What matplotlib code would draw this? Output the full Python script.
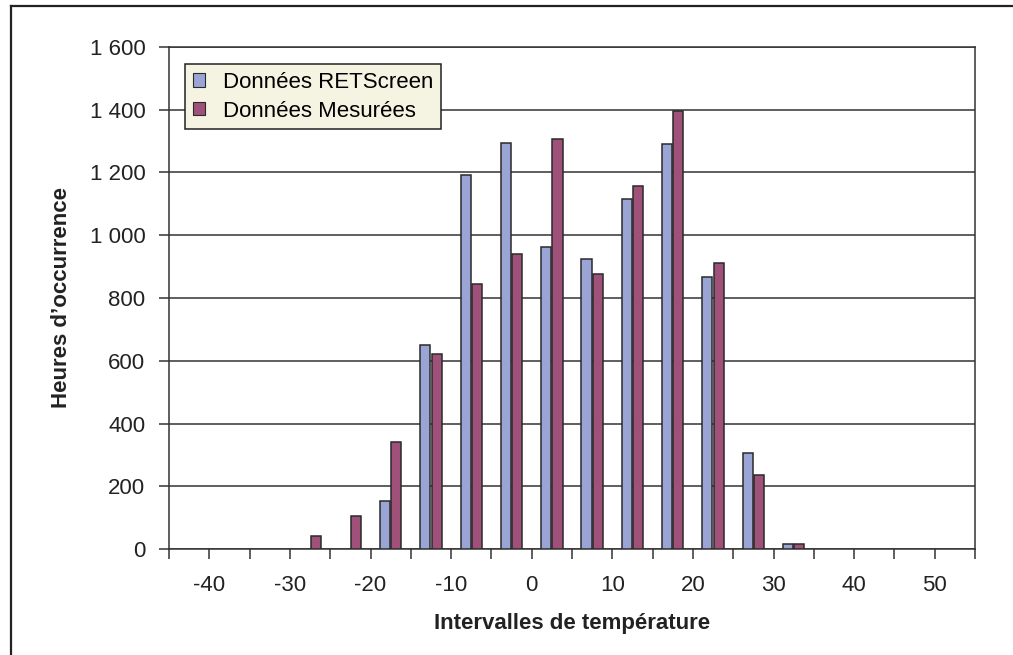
import numpy as np
import matplotlib
matplotlib.use('Agg')
import matplotlib.pyplot as plt
from matplotlib.patches import Patch
from matplotlib.lines import Line2D
from matplotlib.ticker import FuncFormatter

plt.rcParams['font.family'] = ['Liberation Sans', 'DejaVu Sans']
plt.rcParams['axes.unicode_minus'] = False

# ── Data ───────────────────────────────────────────────────
bin_centers = [-42.5, -37.5, -32.5, -27.5, -22.5, -17.5, -12.5, -7.5, -2.5, 2.5,
               7.5, 12.5, 17.5, 22.5, 27.5, 32.5, 37.5, 42.5, 47.5, 52.5]
retscreen = [0, 0, 0, 0, 0, 152, 650, 1192, 1294, 962,
             924, 1117, 1290, 867, 305, 15, 0, 0, 0, 0]
mesurees  = [0, 0, 0, 40, 105, 341, 620, 845, 940, 1307,
             875, 1157, 1397, 910, 236, 15, 0, 0, 0, 0]
series_names = ['Données RETScreen', 'Données Mesurées']
x_labels = [-40, -30, -20, -10, 0, 10, 20, 30, 40, 50]

# ── Style ──────────────────────────────────────────────────
c_blue = '#9aa5d6'
c_red  = '#a0517a'
edge   = '#2a2a2a'
grid_c = '#333333'
w      = 1.25
off    = 0.7

fig = plt.figure(figsize=(10.13, 6.55), dpi=100)
ax = fig.add_axes([169/1013, 1 - 549/655, (975 - 169)/1013, (549 - 47)/655])

x = np.array(bin_centers)
rb = np.array(retscreen)
rm = np.array(mesurees)
ax.bar(x[rb > 0] - off, rb[rb > 0], width=w, color=c_blue,
       edgecolor=edge, linewidth=1.1, zorder=3)
ax.bar(x[rm > 0] + off, rm[rm > 0], width=w, color=c_red,
       edgecolor=edge, linewidth=1.1, zorder=3)

ax.set_xlim(-45, 55)
ax.set_ylim(0, 1600)
ax.set_xticks(x_labels)
ax.set_xticks(np.arange(-45, 56, 10), minor=True)
ax.set_yticks(np.arange(0, 1601, 200))
ax.yaxis.set_major_formatter(FuncFormatter(lambda v, p: f'{v:,.0f}'.replace(',', ' ')))

ax.grid(axis='y', color=grid_c, linewidth=1.1, zorder=0)
ax.tick_params(axis='x', which='both', direction='out', length=7, width=1.1,
               color=grid_c, labelsize=16, pad=12, labelcolor='#222222')
ax.tick_params(axis='y', direction='out', length=7, width=1.1, color=grid_c,
               labelsize=16, pad=10, labelcolor='#222222')
for s in ax.spines.values():
    s.set_color(grid_c)
    s.set_linewidth(1.1)

ax.set_xlabel('Intervalles de température', fontsize=16, fontweight='bold',
              color='#222222', labelpad=12)
ax.set_ylabel('Heures d\u2019occurrence', fontsize=16, fontweight='bold',
              color='#222222', labelpad=13)

handles = [Patch(facecolor=c_blue, edgecolor=edge, linewidth=0.8),
           Patch(facecolor=c_red, edgecolor=edge, linewidth=0.8)]
leg = ax.legend(handles, series_names, loc='upper left',
                bbox_to_anchor=(0.02, 0.966), borderaxespad=0,
                fancybox=False, framealpha=1, facecolor='#f5f3e1',
                edgecolor='#222222', fontsize=16, handlelength=0.55,
                handleheight=0.55, handletextpad=0.8, labelspacing=0.35,
                borderpad=0.35)
leg.get_frame().set_linewidth(1.1)
leg.set_zorder(5)

# outer frame (top and left edges)
fig.add_artist(Line2D([11/1013, 1], [1 - 6/655, 1 - 6/655], color='#222222', lw=1.6))
fig.add_artist(Line2D([11/1013, 11/1013], [0, 1 - 6/655], color='#222222', lw=1.6))

fig.savefig('out.png', dpi=100)
